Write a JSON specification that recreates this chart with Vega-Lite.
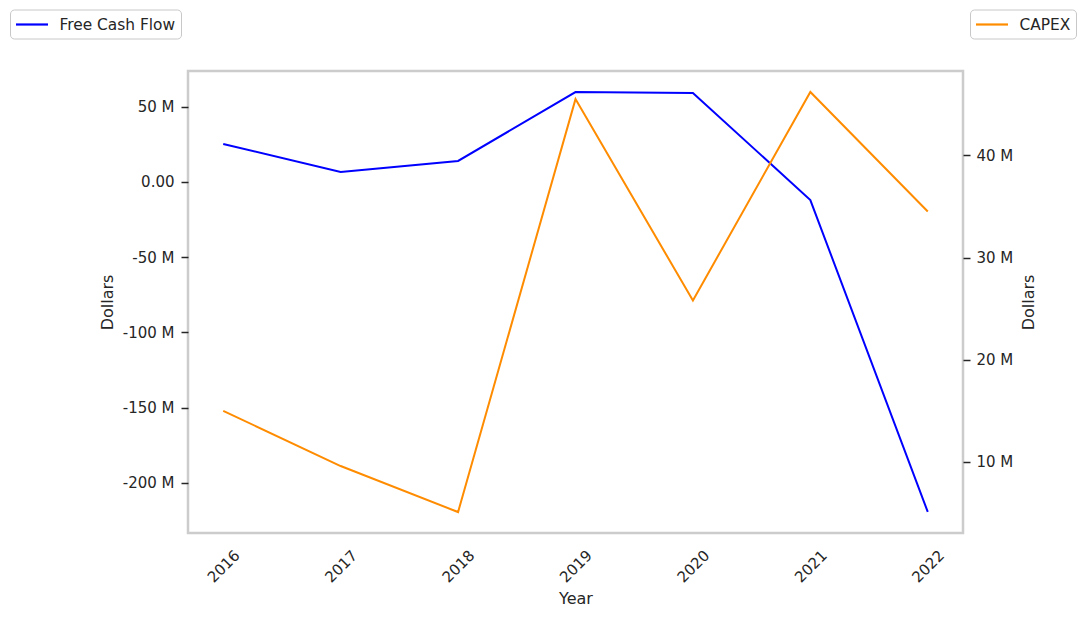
{
  "$schema": "https://vega.github.io/schema/vega-lite/v6.json",
  "width": 775,
  "height": 462,
  "autosize": {"type": "none"},
  "padding": {"left": 188, "top": 71, "right": 122, "bottom": 85},
  "background": "white",
  "config": {
    "font": "DejaVu Sans",
    "view": {"stroke": "#cccccc", "strokeWidth": 2.5},
    "axis": {
      "domain": false,
      "grid": false,
      "labelFont": "DejaVu Sans",
      "titleFont": "DejaVu Sans",
      "labelFontSize": 15,
      "titleFontSize": 16,
      "labelColor": "#262626",
      "titleColor": "#262626",
      "titleFontWeight": "normal",
      "tickColor": "#262626",
      "tickWidth": 1.5,
      "tickSize": 7,
      "labelPadding": 7
    },
    "legend": {
      "orient": "none",
      "labelFont": "DejaVu Sans",
      "labelFontSize": 15.4,
      "labelColor": "#262626",
      "symbolType": "M-2,0H2",
      "symbolStrokeWidth": 2.2,
      "symbolSize": 256,
      "symbolOffset": 7,
      "strokeColor": "#c8c8c8",
      "fillColor": "white",
      "cornerRadius": 4,
      "padding": 5.5,
      "labelOffset": 18
    }
  },
  "data": {
    "values": [
      {"year": 2016, "fcf": 25.3e6, "capex": 15.0e6},
      {"year": 2017, "fcf": 6.6e6, "capex": 9.6e6},
      {"year": 2018, "fcf": 14.0e6, "capex": 5.1e6},
      {"year": 2019, "fcf": 59.8e6, "capex": 45.5e6},
      {"year": 2020, "fcf": 59.2e6, "capex": 25.8e6},
      {"year": 2021, "fcf": -12.0e6, "capex": 46.2e6},
      {"year": 2022, "fcf": -219.4e6, "capex": 34.5e6}
    ]
  },
  "encoding": {
    "x": {
      "field": "year",
      "type": "quantitative",
      "title": "Year",
      "scale": {"domain": [2015.7, 2022.3], "nice": false, "zero": false},
      "axis": {
        "values": [2016, 2017, 2018, 2019, 2020, 2021, 2022],
        "format": "d",
        "ticks": false,
        "labelAngle": -45,
        "labelAlign": "center",
        "labelBaseline": "middle",
        "labelPadding": 33,
        "titlePadding": 5
      }
    }
  },
  "layer": [
    {
      "mark": {"type": "line", "strokeWidth": 2},
      "encoding": {
        "y": {
          "field": "fcf",
          "type": "quantitative",
          "title": "Dollars",
          "scale": {"domain": [-233.4e6, 73.8e6], "nice": false, "zero": false},
          "axis": {
            "orient": "left",
            "values": [-200e6, -150e6, -100e6, -50e6, 0, 50e6],
            "labelExpr": "datum.value == 0 ? '0.00' : replace(format(datum.value / 1e6, 'd'), '\u2212', '-') + ' M'",
            "titlePadding": 7
          }
        },
        "color": {
          "datum": "Free Cash Flow",
          "scale": {"range": ["#0000ff"]},
          "legend": {"title": null, "legendX": -178, "legendY": -61.5}
        }
      }
    },
    {
      "mark": {"type": "line", "strokeWidth": 2},
      "encoding": {
        "y": {
          "field": "capex",
          "type": "quantitative",
          "title": "Dollars",
          "scale": {"domain": [3.05e6, 48.25e6], "nice": false, "zero": false},
          "axis": {
            "orient": "right",
            "values": [10e6, 20e6, 30e6, 40e6],
            "labelExpr": "format(datum.value / 1e6, 'd') + ' M'",
            "labelPadding": 6,
            "titleAngle": 270,
            "titlePadding": 24
          }
        },
        "color": {
          "datum": "CAPEX",
          "scale": {"range": ["#ff8c00"]},
          "legend": {"title": null, "legendX": 782, "legendY": -61.5}
        }
      }
    }
  ],
  "resolve": {"scale": {"y": "independent", "color": "independent"}}
}
